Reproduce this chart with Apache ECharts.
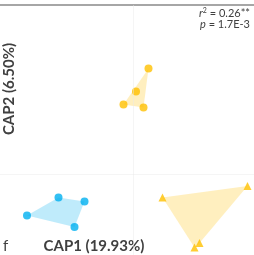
<!DOCTYPE html>
<html>
<head>
<meta charset="utf-8">
<script src="https://cdn.jsdelivr.net/npm/echarts@6/dist/echarts.min.js"></script>
<style>
  html, body { margin: 0; padding: 0; background: #fff; }
  #chart { width: 254px; height: 255px; }
</style>
</head>
<body>
<div id="chart"></div>
<script>
// CAP 排序图：三组样本 + 凸包
const groupNames = ['orangeCircle', 'blueCircle', 'orangeTriangle'];
const orangeCircle = [[0.31, 2.11], [0.06, 1.65], [-0.19, 1.39], [0.21, 1.33]];
const blueCircle = [[-1.49, -0.47], [-0.97, -0.55], [-2.12, -0.83], [-1.17, -1.06]];
const orangeTriangle = [[0.59, -0.47], [2.29, -0.24], [1.33, -1.38], [1.23, -1.47]];
const statLines = ['0.26**', '1.7E-3'];
const xLabel = 'CAP1 (19.93%)';
const yLabel = 'CAP2 (6.50%)';

const groups = [orangeCircle, blueCircle, orangeTriangle];
const markColors = ['#FFC000', '#00B0F0', '#FFC000'];
const fillColors = ['rgba(255,192,0,0.25)', 'rgba(0,176,240,0.25)', 'rgba(255,192,0,0.25)'];
const symbols = ['circle', 'circle', 'triangle'];

// 凸包（单调链）
function hull(pts) {
  const p = pts.slice().sort((a, b) => a[0] - b[0] || a[1] - b[1]);
  const cross = (o, a, b) => (a[0] - o[0]) * (b[1] - o[1]) - (a[1] - o[1]) * (b[0] - o[0]);
  const lower = [], upper = [];
  for (const q of p) {
    while (lower.length >= 2 && cross(lower[lower.length - 2], lower[lower.length - 1], q) <= 0) lower.pop();
    lower.push(q);
  }
  for (let i = p.length - 1; i >= 0; i--) {
    const q = p[i];
    while (upper.length >= 2 && cross(upper[upper.length - 2], upper[upper.length - 1], q) <= 0) upper.pop();
    upper.push(q);
  }
  upper.pop(); lower.pop();
  return lower.concat(upper);
}

const hulls = groups.map(hull);

const series = [];
groups.forEach((g, gi) => {
  series.push({
    type: 'custom',
    silent: true,
    z: 1,
    data: [[gi]],
    renderItem: (params, api) => ({
      type: 'polygon',
      shape: { points: hulls[gi].map(p => api.coord(p)) },
      style: { fill: fillColors[gi], stroke: 'none' },
    }),
  });
});
groups.forEach((g, gi) => {
  series.push({
    type: 'scatter',
    name: groupNames[gi],
    z: 3,
    symbol: symbols[gi],
    symbolSize: 8,
    itemStyle: { color: markColors[gi] },
    data: g,
  });
});
// 零线（很淡）
series.push({
  type: 'scatter',
  data: [],
  markLine: {
    silent: true,
    symbol: 'none',
    label: { show: false },
    lineStyle: { color: '#e8e8e8', width: 1, type: 'solid', opacity: 0.45 },
    data: [{ xAxis: 0 }, { yAxis: 0 }],
  },
});

const chart = echarts.init(document.getElementById('chart'));
chart.setOption({
  animation: false,
  grid: { left: 0, right: 0, top: 5, bottom: 0 },
  xAxis: {
    type: 'value', min: -2.66, max: 2.42, position: 'top',
    axisLine: { show: true, onZero: false, lineStyle: { color: '#a6a6a6', width: 2 } },
    axisTick: { show: false }, axisLabel: { show: false }, splitLine: { show: false },
  },
  yAxis: {
    type: 'value', min: -1.62, max: 3.38,
    axisLine: { show: false }, axisTick: { show: false },
    axisLabel: { show: false }, splitLine: { show: false },
  },
  graphic: [
    {
      type: 'text', right: 4, top: 7,
      style: {
        text: '{i|r}{s|2} = ' + statLines[0],
        font: '11px Lato', fill: '#404040', textAlign: 'right',
        rich: {
          i: { fontStyle: 'italic', fontSize: 11, fontFamily: 'Lato', fill: '#404040' },
          s: { fontSize: 7, fontFamily: 'Lato', fill: '#404040', verticalAlign: 'top', padding: [0, 0, 5, 0] },
        },
      },
    },
    {
      type: 'text', right: 4, top: 19,
      style: {
        text: '{i|p} = ' + statLines[1],
        font: '11px Lato', fill: '#404040',
        rich: { i: { fontStyle: 'italic', fontSize: 11, fontFamily: 'Lato', fill: '#404040' } },
      },
    },
    {
      type: 'text', x: 9, y: 89, rotation: Math.PI / 2,
      style: {
        text: yLabel, font: 'bold 15px Lato', fill: '#404040',
        textAlign: 'center', textVerticalAlign: 'middle',
      },
    },
    {
      type: 'text', x: 94, y: 246,
      style: {
        text: xLabel, font: 'bold 15px Lato', fill: '#404040',
        textAlign: 'center', textVerticalAlign: 'middle',
      },
    },
    {
      type: 'text', x: 3, y: 246,
      style: { text: 'f', font: '15px Lato', fill: '#404040', textVerticalAlign: 'middle' },
    },
  ],
  series,
});
</script>
</body>
</html>
